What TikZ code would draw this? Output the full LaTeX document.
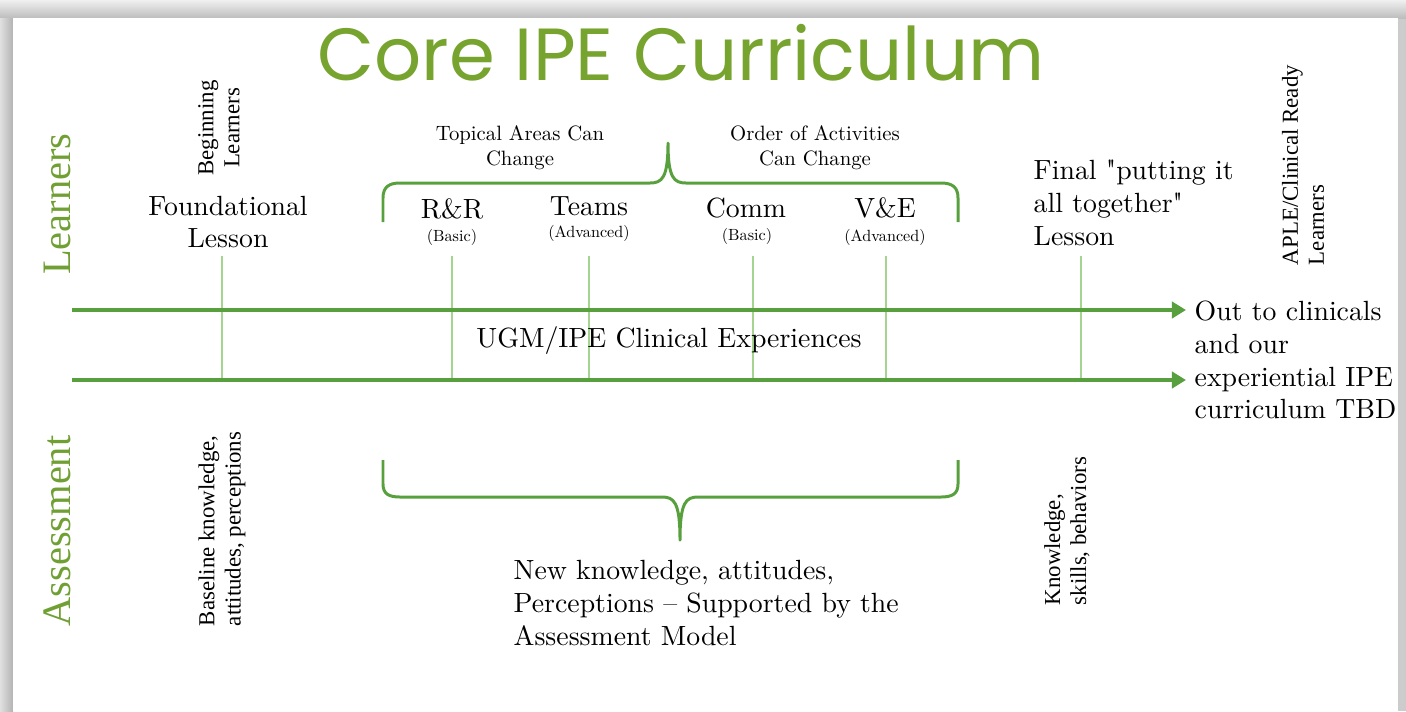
\documentclass[tikz,border=0pt]{standalone}
\usepackage{fontspec}
\setmainfont{lmroman10-regular.otf}
\newfontfamily\quotefont{lmroman10-regular.otf}[Ligatures=ResetAll]
\newfontfamily\timesfont{Liberation Serif}
\newfontfamily\titlefont{Poppins}
\usetikzlibrary{arrows.meta}
\definecolor{titlegreen}{RGB}{119,163,47}
\definecolor{sidegreen}{RGB}{112,160,52}
\definecolor{linegreen}{RGB}{88,160,62}
\definecolor{tickgreen}{RGB}{165,212,145}
\newcommand{\qmark}{{\quotefont"}}
\begin{document}
\begin{tikzpicture}[x=0.01cm,y=-0.01cm,
    txt/.style={inner sep=0pt,font=\fontsize{7.9}{9.3}\selectfont,align=center},
    small/.style={inner sep=0pt,font=\fontsize{4.6}{5.5}\selectfont},
    note/.style={inner sep=0pt,font=\fontsize{5.9}{7.1}\selectfont,align=center},
    side/.style={inner sep=0pt,rotate=90,font=\timesfont\fontsize{6.5}{7.4}\selectfont},
    rowlabel/.style={inner sep=0pt,rotate=90,text=sidegreen,font=\timesfont\fontsize{11.5}{13}\selectfont},
    timeline/.style={draw=linegreen,line width=1.15pt,-{Triangle[length=4pt,width=4.6pt]}},
    brace/.style={draw=linegreen,line width=0.85pt,line join=round},
    tick/.style={draw=tickgreen,line width=0.35pt}]
    % slide frame
    \useasboundingbox (0,0) rectangle (1406,711);
    \fill[black!20] (0,0) rectangle (1406,711);
    \shade[top color=black!6,bottom color=black!26] (0,0) rectangle (1406,18);
    \shade[left color=black!12,right color=black!30] (0,18) rectangle (13,711);
    \fill[white] (13,18) rectangle (1398,711);
    \node[anchor=base,inner sep=0pt,text=titlegreen,font=\titlefont\fontsize{21}{25}\selectfont] (title) at (681,80) {Core IPE Curriculum};
    \node[rowlabel] (learners) at (57,204) {Learners};
    \node[rowlabel] (assess) at (57,531) {Assessment};
    % the two time lines
    \coordinate (topstart) at (72,310);
    \coordinate (topend) at (1186,310);
    \coordinate (lowstart) at (72,380);
    \coordinate (lowend) at (1186,380);
    \foreach \x in {222,452,589,753,886,1081}
        \draw[tick] (\x,256) -- (\x,380);
    \draw[timeline] (topstart) -- (topend);
    \draw[timeline] (lowstart) -- (lowend);
    \node[txt] (ugm) at (669,341) {UGM/IPE Clinical Experiences};
    \node[txt,anchor=west,align=left] (out) at (1194,360) {Out to clinicals\\and our\\experiential IPE\\curriculum TBD};
    % learners row
    \node[side,align=center] (begin) at (219,128) {Beginning\\Learners};
    \node[txt] (found) at (228,222) {Foundational\\Lesson};
    \node[note] (topical) at (520,148) {Topical Areas Can\\Change};
    \node[note] (order) at (815,148) {Order of Activities\\Can Change};
    \draw[brace] (383,222) -- (383,198) .. controls (383,187) and (389,183) .. (400,183)
        -- (650,183) .. controls (662,183) and (668,178) .. (668,143)
        .. controls (668,178) and (674,183) .. (686,183)
        -- (941,183) .. controls (952,183) and (958,187) .. (958,198) -- (958,222);
    \node[txt] (rr) at (452,209) {R\&R};
    \node[small] (rrlevel) at (452,237) {(Basic)};
    \node[txt] (teams) at (589,206) {Teams};
    \node[small] (teamslevel) at (589,233) {(Advanced)};
    \node[txt] (comm) at (746,208) {Comm};
    \node[small] (commlevel) at (747,236) {(Basic)};
    \node[txt] (ve) at (885,208) {V\&E};
    \node[small] (velevel) at (885,237) {(Advanced)};
    \node[txt,anchor=west,align=left] (final) at (1033,203) {Final \qmark putting it\\all together\qmark\\Lesson};
    \node[side,align=left] (aple) at (1303,165) {APLE/Clinical Ready\\Learners};
    % assessment row
    \node[side,align=left] (baseline) at (222,529) {Baseline knowledge,\\attitudes, perceptions};
    \draw[brace] (383,460) -- (383,484) .. controls (383,494) and (389,497) .. (400,497)
        -- (662,497) .. controls (674,497) and (680,502) .. (680,540)
        .. controls (680,502) and (686,497) .. (698,497)
        -- (941,497) .. controls (952,497) and (958,494) .. (958,484) -- (958,460);
    \node[txt,anchor=west,align=left] (newk) at (513,603) {New knowledge, attitudes,\\Perceptions -- Supported by the\\Assessment Model};
    \node[side,align=left] (ksb) at (1067,531) {Knowledge,\\skills, behaviors};
\end{tikzpicture}
\end{document}
